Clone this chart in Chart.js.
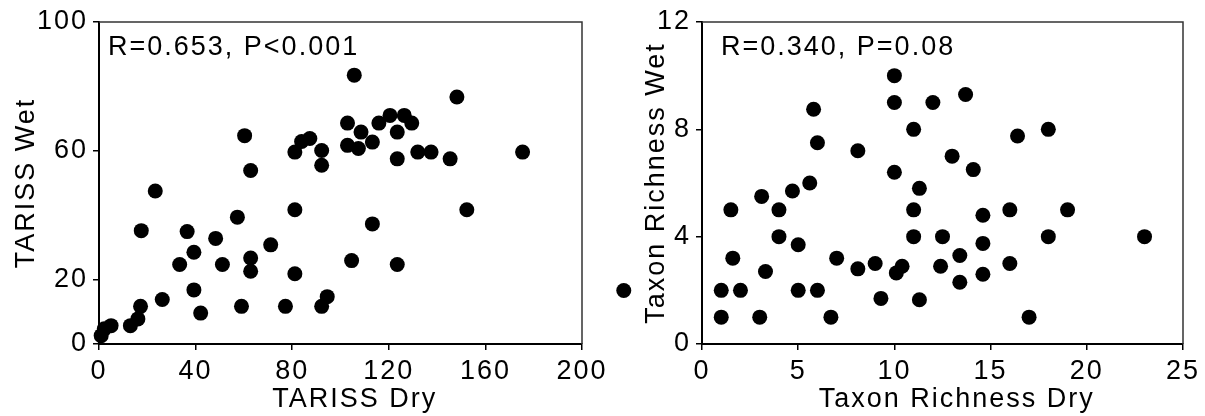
<!DOCTYPE html>
<html>
<head>
<meta charset="utf-8">
<script src="https://cdn.jsdelivr.net/npm/chart.js"></script>
<style>
    body { margin: 0; background: #fff; }
    #wrap { position: relative; width: 1205px; height: 416px; }
    canvas { position: absolute; top: 0; }
    #left { left: 0; }
    #right { left: 600px; }
</style>
</head>
<body>
<div id="wrap">
    <canvas id="left" width="660" height="416"></canvas>
    <canvas id="right" width="605" height="416"></canvas>
</div>
<script>
// TARISS, dry vs wet season
const tarissDry = [0.9, 2.2, 5.0, 13.0, 16.1, 17.2, 17.5, 23.3, 26.2, 33.4, 36.5, 39.3, 39.3, 42.1, 48.3,
    51.1, 57.3, 59.0, 60.3, 62.8, 62.8, 62.8, 71.1, 77.2, 81.1, 81.1, 81.1, 83.9, 87.3, 92.2, 92.2, 92.2,
    94.5, 105.7, 102.9, 102.9, 107.4, 108.5, 113.2, 115.9, 120.5, 126.4, 129.5, 123.5, 123.5, 132.0, 137.5,
    145.4, 148.2, 175.4, 152.3, 113.2, 104.6, 123.5, 217.3];
const tarissWet = [2.6, 4.7, 5.7, 5.7, 7.8, 11.7, 35.2, 47.5, 13.8, 24.7, 34.9, 28.5, 16.8, 9.6, 32.8,
    24.7, 39.4, 11.7, 64.7, 53.9, 26.7, 22.6, 30.8, 11.7, 59.6, 41.7, 21.8, 62.9, 63.8, 60.1, 55.5, 11.7,
    14.7, 83.5, 68.6, 61.7, 60.7, 65.8, 62.7, 68.6, 71.0, 71.0, 68.6, 65.8, 57.5, 59.6, 59.6,
    57.5, 76.7, 59.6, 41.7, 37.3, 25.9, 24.7, 16.6];
const tarissDryTicks = [0, 40, 80, 120, 160, 200];
const tarissWetTicks = [0, 20, 60, 100];

// Taxon richness, dry vs wet season
const taxonDry = [1, 1, 2, 1.6, 1.5, 3, 3.3, 3.1, 4, 4, 4.7, 5, 5, 5.6, 5.8, 6, 6, 6.7, 7, 8.1,
    8.1, 9, 9.3, 10, 10, 10, 10.1, 10.4, 11, 11.3, 11, 11, 11.3, 12, 12.5, 12.4, 13.7, 13, 14.1, 13.4,
    13.4, 14.6, 14.6, 14.6, 16.4, 16, 16, 17, 18, 18, 19, 23];
const taxonWet = [1, 2, 2, 3.2, 5, 1, 2.7, 5.5, 5, 4, 5.7, 3.7, 2, 6, 8.75, 7.5, 2, 1, 3.2, 7.2,
    2.8, 3, 1.7, 10, 9, 6.4, 2.65, 2.9, 8, 5.8, 5, 4, 1.65, 9, 4, 2.9, 9.3, 7, 6.5, 3.3,
    2.3, 4.8, 3.75, 2.6, 7.75, 5, 3, 1, 8, 4, 5, 4];
const taxonDryTicks = [0, 5, 10, 15, 20, 25];
const taxonWetTicks = [0, 4, 8, 12];

Chart.defaults.font.family = '"Liberation Sans", Arial, sans-serif';
Chart.defaults.font.size = 27;
Chart.defaults.color = '#000';

function points(xs, ys) {
    let liste = [];
    for (let i = 0; i < xs.length; i++)
        liste.push({x: xs[i], y: ys[i]});
    return liste;
}

function setTicks(values) {
    return function (scale) {
        scale.ticks = values.map(v => ({value: v}));
    };
}

// the source text is tracked out a bit
const spacing = {
    id: 'spacing',
    beforeDraw(chart) {
        chart.ctx.letterSpacing = '2px';
    }
};

// top + right edge of the box
const frame = {
    id: 'frame',
    beforeDatasetsDraw(chart) {
        let a = chart.chartArea;
        let ctx = chart.ctx;
        ctx.save();
        ctx.strokeStyle = '#333';
        ctx.lineWidth = 1.5;
        ctx.beginPath();
        ctx.moveTo(a.left, a.top);
        ctx.lineTo(a.right, a.top);
        ctx.lineTo(a.right, a.bottom);
        ctx.stroke();
        ctx.restore();
    }
};

// chart.js skips points that fall off the chart area, the original doesn't
const outside = {
    id: 'outside',
    afterDatasetsDraw(chart) {
        let a = chart.chartArea;
        chart.getDatasetMeta(0).data.forEach(p => {
            if (p.x < a.left || p.x > a.right || p.y < a.top || p.y > a.bottom)
                p.draw(chart.ctx);
        });
    }
};

const note = {
    id: 'note',
    afterDraw(chart, args, opts) {
        let ctx = chart.ctx;
        ctx.save();
        ctx.font = '27px "Liberation Sans", Arial, sans-serif';
        ctx.fillStyle = '#000';
        ctx.textBaseline = 'alphabetic';
        ctx.textAlign = 'left';
        ctx.fillText(opts.text, chart.chartArea.left + opts.dx, chart.chartArea.top + 33);
        ctx.restore();
    }
};

function axis(ticks, title, fit, titlePad) {
    return {
        type: 'linear',
        min: ticks[0],
        max: ticks[ticks.length - 1],
        afterBuildTicks: setTicks(ticks),
        afterFit: fit,
        grid: {drawOnChartArea: false, drawTicks: true, tickLength: 6, color: '#000', lineWidth: 1.5},
        border: {display: true, color: '#000', width: 2},
        ticks: {padding: 5, color: '#000', maxRotation: 0, autoSkip: false},
        title: {display: true, text: title, color: '#000', padding: titlePad}
    };
}

function AfficherScatter(id, xs, ys, xTicks, yTicks, xTitle, yTitle, texte, dx, yWidth, yPad, padRight) {
    let ctx = document.getElementById(id).getContext('2d');
    return new Chart(ctx, {
        type: 'scatter',
        data: {
            datasets: [{
                data: points(xs, ys),
                backgroundColor: '#000',
                pointBackgroundColor: '#000',
                pointBorderWidth: 0,
                pointRadius: 7.5,
                pointHoverRadius: 7.5,
                clip: false
            }]
        },
        options: {
            responsive: false,
            animation: false,
            events: [],
            layout: {padding: {top: 22, right: padRight, left: 0, bottom: 0}},
            scales: {
                // leading spaces: the x titles sit a little right of centre in the original
                x: axis(xTicks, '\u00a0\u00a0\u00a0' + xTitle, s => { s.height = 72; }, {top: 0, bottom: 0.5}),
                y: axis(yTicks, yTitle, s => { s.width = yWidth; }, {top: yPad, bottom: 0})
            },
            plugins: {
                legend: {display: false},
                tooltip: {enabled: false},
                note: {text: texte, dx: dx}
            }
        },
        plugins: [spacing, frame, outside, note]
    });
}

AfficherScatter('left', tarissDry, tarissWet, tarissDryTicks, tarissWetTicks,
    'TARISS Dry', 'TARISS Wet', 'R=0.653, P<0.001', 9, 99, 10.5, 78);
AfficherScatter('right', taxonDry, taxonWet, taxonDryTicks, taxonWetTicks,
    'Taxon Richness Dry', 'Taxon Richness Wet', 'R=0.340, P=0.08', 19, 102, 40.5, 22);
</script>
</body>
</html>
